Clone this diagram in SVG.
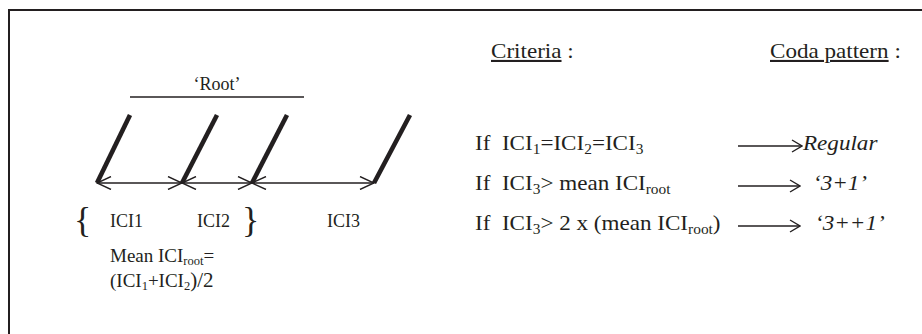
<svg xmlns="http://www.w3.org/2000/svg" width="922" height="334" viewBox="0 0 922 334">
<style>
text{font-family:"Liberation Serif","Times New Roman",serif;fill:#231f20;white-space:pre}
.l{font-size:18px}
.m{font-size:19px}
.r{font-size:21px}
.it{font-style:italic}
.sub{font-size:14px}
.subl{font-size:12.5px}
.tick{stroke:#231f20;stroke-width:4.6;stroke-linecap:butt}
.axis{stroke:#231f20;stroke-width:1.4;fill:none}
</style>
<defs>
<marker id="chev" viewBox="0 0 16 14" refX="15" refY="7" markerWidth="16" markerHeight="14" markerUnits="userSpaceOnUse" orient="auto-start-reverse">
<path d="M1,0.5 L15,7 L1,13.5" fill="none" stroke="#231f20" stroke-width="1.4"/>
</marker>
<marker id="chevS" viewBox="0 0 12 14" refX="11" refY="7" markerWidth="12" markerHeight="14" markerUnits="userSpaceOnUse" orient="auto">
<path d="M1,1 L11,7 L1,13" fill="none" stroke="#231f20" stroke-width="1.4"/>
</marker>
</defs>
<path d="M9,334 V10 H922" fill="none" stroke="#231f20" stroke-width="2"/>

<g id="root-label">
<text class="l" x="217" y="90" text-anchor="middle">‘Root’</text>
<line x1="130" y1="97" x2="304" y2="97" stroke="#231f20" stroke-width="1.4"/>
</g>

<g id="clicks">
<line class="tick" x1="130" y1="115" x2="97" y2="183"/>
<line class="tick" x1="217" y1="115" x2="182" y2="183"/>
<line class="tick" x1="287" y1="115" x2="252" y2="183"/>
<line class="tick" x1="410" y1="115" x2="374" y2="183"/>
</g>

<g id="connectors">
<line class="axis" x1="97" y1="183" x2="182" y2="183" marker-start="url(#chev)" marker-end="url(#chev)"/>
<line class="axis" x1="182" y1="183" x2="252" y2="183" marker-start="url(#chev)" marker-end="url(#chev)"/>
<line class="axis" x1="252" y1="183" x2="374" y2="183" marker-start="url(#chev)" marker-end="url(#chev)"/>
<line class="axis" x1="738" y1="146" x2="802" y2="146" marker-end="url(#chevS)"/>
<line class="axis" x1="738" y1="186" x2="800" y2="186" marker-end="url(#chevS)"/>
<line class="axis" x1="738" y1="226" x2="800" y2="226" marker-end="url(#chevS)"/>
</g>

<g id="interval-labels">
<text x="74" y="232" style="font-size:36px">{</text>
<text class="l" x="110" y="227">ICI1</text>
<text class="l" x="197" y="227">ICI2</text>
<text x="242" y="232" style="font-size:36px">}</text>
<text class="l" x="327" y="227">ICI3</text>
</g>

<g id="mean-formula">
<text class="m" x="110" y="262">Mean ICI<tspan class="subl" dy="3">root</tspan><tspan dy="-3">=</tspan></text>
<text class="m" x="110" y="287">(ICI<tspan class="subl" dy="3">1</tspan><tspan dy="-3">+ICI</tspan><tspan class="subl" dy="3">2</tspan><tspan dy="-3" style="font-size:21px">)/2</tspan></text>
</g>

<g id="headers">
<text class="r" transform="translate(491,58) scale(1.1,1)"><tspan text-decoration="underline">Criteria</tspan> :</text>
<text class="r" transform="translate(770,58) scale(1.1,1)"><tspan text-decoration="underline">Coda pattern</tspan> :</text>
</g>

<g id="criterion-regular">
<text class="r" transform="translate(475,150) scale(1.1,1)">If  ICI<tspan class="sub" dy="4">1</tspan><tspan dy="-4">=ICI</tspan><tspan class="sub" dy="4">2</tspan><tspan dy="-4">=ICI</tspan><tspan class="sub" dy="4">3</tspan></text>
<text class="r it" transform="translate(803,150) scale(1.1,1)">Regular</text>
</g>

<g id="criterion-3plus1">
<text class="r" transform="translate(475,190) scale(1.1,1)">If  ICI<tspan class="sub" dy="4">3</tspan><tspan dy="-4">&gt; mean ICI</tspan><tspan class="sub" dy="4">root</tspan></text>
<text class="r it" transform="translate(813,190) scale(1.1,1)">‘3+1’</text>
</g>

<g id="criterion-3plusplus1">
<text class="r" transform="translate(475,230) scale(1.1,1)">If  ICI<tspan class="sub" dy="4">3</tspan><tspan dy="-4">&gt; 2 x (mean ICI</tspan><tspan class="sub" dy="4">root</tspan><tspan dy="-4">)</tspan></text>
<text class="r it" transform="translate(815,230) scale(1.1,1)">‘3++1’</text>
</g>
</svg>
